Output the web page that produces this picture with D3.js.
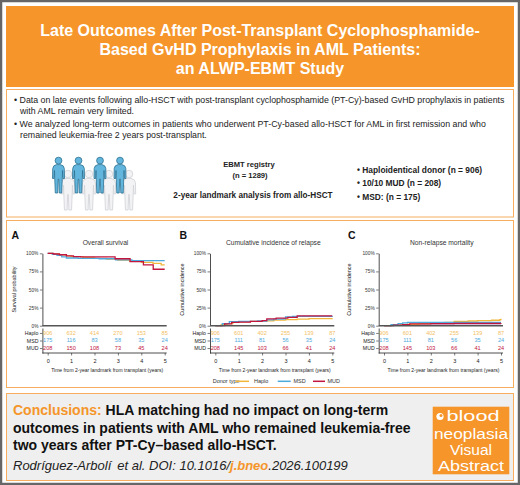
<!DOCTYPE html>
<html><head><meta charset="utf-8">
<script src="https://cdn.jsdelivr.net/npm/d3@7/dist/d3.min.js"></script>
<style>
body{margin:0;background:#fff}
svg{display:block}
text{font-family:"Liberation Sans",Arial,Helvetica,sans-serif}
</style>
</head><body>
<svg id="c" width="520" height="485"></svg>
<script>
// ---------- DATA ----------
const years = [0, 1, 2, 3, 4, 5];
const groups = ["Haplo", "MSD", "MUD"];
const yTicks = [0, 25, 50, 75, 100];

// Overall survival (%), [years, value]
const osHaplo = [[0,100],[0.2,99],[0.5,98],[0.8,96.5],[1.0,95.5],[1.5,94.5],[2.0,93],[2.5,92],[3.0,90.5],[3.5,89],[4.0,87.5],[4.5,86],[4.85,84],[5,84]];
const osMSD   = [[0,100],[0.2,98.5],[0.4,97],[0.6,95],[0.8,93.5],[1.3,93],[2.2,92.5],[2.9,91],[3.6,90],[5,90]];
const osMUD   = [[0,100],[0.25,99],[0.5,98],[0.8,96.5],[1.1,95.5],[1.4,95],[2.88,92.5],[3.52,88.5],[4.09,84],[4.51,78],[5,78]];

// Cumulative incidence of relapse (%)
const cirHaplo = [[0,0],[0.25,1.5],[0.5,3],[0.75,4.5],[1,5.2],[1.5,6],[2,6.8],[2.5,7.8],[3,8.5],[3.5,9],[4,9.8],[5,10]];
const cirMSD   = [[0,0],[0.3,3],[0.6,5.5],[1,6],[1.8,6.5],[2.2,8],[2.5,9],[2.9,9.5],[3.0,12],[3.3,12.8],[5,13]];
const cirMUD   = [[0,0],[0.4,2.5],[0.7,4.5],[1,5],[1.5,6],[2,7],[2.2,9.5],[2.6,10.5],[3.1,11.5],[3.5,13.5],[5,13.5]];

// Non-relapse mortality (%)
const nrmHaplo = [[0,0],[0.3,0.5],[0.7,1.2],[1,2],[1.5,2.8],[2,3.5],[2.6,4.5],[3,6],[3.6,6.5],[4,7],[4.6,7.5],[4.95,8.5],[5,9.5]];
const nrmMSD   = [[0,0],[0.3,1.5],[0.6,3],[0.8,4],[1,4.5],[5,4.5]];
const nrmMUD   = [[0,0],[0.4,0.8],[0.8,1.5],[1.1,2.5],[2,3],[3,3.3],[5,3.5]];

// Numbers at risk
const riskOSHaplo = [906, 632, 414, 270, 153, 85];
const riskOSMSD   = [175, 116, 83, 58, 35, 24];
const riskOSMUD   = [208, 150, 108, 73, 45, 24];
const riskCIHaplo = [906, 601, 402, 255, 139, 87];
const riskCIMSD   = [175, 111, 81, 56, 35, 24];
const riskCIMUD   = [208, 145, 103, 66, 41, 24];

const panelLetters = ["A", "B", "C"];
const panelTitles = ["Overall survival", "Cumulative incidence of relapse", "Non-relapse mortality"];
const panelYLabels = ["Survival probability", "Cumulative incidence", "Cumulative incidence"];
const xAxisTitle = "Time from 2-year landmark from transplant (years)";

// ---------- STYLE ----------
const ORANGE = "#F5952A";
const BORDER = "#F6AE5E";
const lineColor = {Haplo:"#F2B63C", MSD:"#4EA9DC", MUD:"#C2163F"};
const riskColor = {Haplo:"#F3C063", MSD:"#4EA9DC", MUD:"#C2163F"};

const svg = d3.select("#c");

// frame & boxes
svg.append("rect").attr("x",1).attr("y",1).attr("width",518).attr("height",483)
  .attr("fill","#fff").attr("stroke","#666").attr("stroke-width",2.5);
svg.append("rect").attr("x",6).attr("y",6).attr("width",508).attr("height",81).attr("fill",ORANGE);
svg.append("rect").attr("x",6.5).attr("y",89.5).attr("width",507).attr("height",127.5)
  .attr("fill","#fff").attr("stroke",BORDER).attr("stroke-width",1);
svg.append("rect").attr("x",6.5).attr("y",220.5).attr("width",507).attr("height",167)
  .attr("fill","#fff").attr("stroke",BORDER).attr("stroke-width",1);
svg.append("rect").attr("x",6.5).attr("y",393.5).attr("width",507).attr("height",87)
  .attr("fill","#EFEFEF").attr("stroke",BORDER).attr("stroke-width",1);

// title
const titleLines = ["Late Outcomes After Post-Transplant Cyclophosphamide-",
  "Based GvHD Prophylaxis in AML Patients:", "an ALWP-EBMT Study"];
[35.8, 55, 74].forEach((y,i)=>{
  svg.append("text").attr("x",260).attr("y",y).attr("text-anchor","middle")
    .attr("fill","#fff").attr("font-weight","bold").attr("font-size",16).text(titleLines[i]);
});

// bullets
const bullets = [
  ["• Data on late events following allo-HSCT with post-transplant cyclophosphamide (PT-Cy)-based GvHD prophylaxis in patients", 14, 103.3],
  ["with AML remain very limited.", 20, 114],
  ["• We analyzed long-term outcomes in patients who underwent PT-Cy-based allo-HSCT for AML in first remission and who", 14, 127.3],
  ["remained leukemia-free 2 years post-transplant.", 20, 137.8]
];
bullets.forEach(b=>{
  svg.append("text").attr("x",b[1]).attr("y",b[2]).attr("font-size",8.8).attr("fill","#222").text(b[0]);
});

// people icons
const personPath = "M -1.8,7.6 L 1.8,7.6 Q 5.4,8 5.8,11.5 L 6,21.5 L 4.4,21.5 L 4,13.5 L 3.8,20.5 L 3.2,36 L 0.8,36 L 0.3,22 L -0.3,22 L -0.8,36 L -3.2,36 L -3.8,20.5 L -4,13.5 L -4.4,21.5 L -6,21.5 L -5.8,11.5 Q -5.4,8 -1.8,7.6 Z";
function person(cx, top, h, fill, stroke){
  const g = svg.append("g").attr("transform",`translate(${cx},${top}) scale(${h/36})`);
  g.append("circle").attr("cx",0).attr("cy",3.6).attr("r",3.4).attr("fill",fill).attr("stroke",stroke).attr("stroke-width",0.8);
  g.append("path").attr("d",personPath).attr("fill",fill).attr("stroke",stroke).attr("stroke-width",0.8);
}
[68, 89, 109, 129].forEach(x=>person(x,170,40,"#F3F3F5","#D3D5DA"));
[58.5, 78.5, 100, 120].forEach(x=>person(x,157,36,"#62B6DD","#2E7192"));

// middle text
svg.append("text").attr("x",249).attr("y",167).attr("text-anchor","middle").attr("font-weight","bold").attr("font-size",7.6).attr("fill","#222").text("EBMT registry");
svg.append("text").attr("x",250).attr("y",177.5).attr("text-anchor","middle").attr("font-weight","bold").attr("font-size",7.6).attr("fill","#222").text("(n = 1289)");
svg.append("text").attr("x",253).attr("y",198.3).attr("text-anchor","middle").attr("font-weight","bold").attr("font-size",8.2).attr("fill","#222").text("2-year landmark analysis from allo-HSCT");
["• Haploidentical donor (n = 906)","• 10/10 MUD (n = 208)","• MSD: (n = 175)"].forEach((t,i)=>{
  svg.append("text").attr("x",357).attr("y",172.5+i*13.5).attr("font-weight","bold").attr("font-size",8.4).attr("fill","#222").text(t);
});

// ---------- PANELS ----------
const panelOx = [47.7, 215.3, 384];
const curves = [
  {Haplo:osHaplo, MSD:osMSD, MUD:osMUD},
  {Haplo:cirHaplo, MSD:cirMSD, MUD:cirMUD},
  {Haplo:nrmHaplo, MSD:nrmMSD, MUD:nrmMUD}
];
const risks = [
  {Haplo:riskOSHaplo, MSD:riskOSMSD, MUD:riskOSMUD},
  {Haplo:riskCIHaplo, MSD:riskCIMSD, MUD:riskCIMUD},
  {Haplo:riskCIHaplo, MSD:riskCIMSD, MUD:riskCIMUD}
];
const letterX = [11.5, 179.5, 348];
const titleX = [105.5, 273.3, 441.8];
const yLabelX = [15.5, 183.5, 350.5];
const y = d3.scaleLinear().domain([0,100]).range([325.7, 253.3]);

panelOx.forEach((ox, p)=>{
  const axX = ox - 5.3;
  const x = d3.scaleLinear().domain([0,5]).range([ox, ox+117]);
  const g = svg.append("g");

  g.append("text").attr("x",letterX[p]).attr("y",238.8).attr("font-weight","bold").attr("font-size",10.5).attr("fill","#111").text(panelLetters[p]);
  g.append("text").attr("x",titleX[p]).attr("y",244.6).attr("text-anchor","middle").attr("font-size",6.7).attr("fill","#333").text(panelTitles[p]);

  // y axis
  const ya = g.append("g").attr("transform",`translate(${axX},0)`)
    .call(d3.axisLeft(y).tickValues(yTicks).tickFormat(d=>d+"%").tickSize(2.5).tickSizeOuter(0).tickPadding(1.5));
  ya.selectAll("text").attr("font-size",4.8).attr("fill","#333").style("font-family","'Liberation Sans',Arial,sans-serif");
  ya.select(".domain").attr("stroke","#222").attr("stroke-width",0.8);
  ya.selectAll(".tick line").attr("stroke","#222").attr("stroke-width",0.6);

  g.append("text").attr("transform",`translate(${yLabelX[p]},289.5) rotate(-90)`).attr("text-anchor","middle")
    .attr("font-size",5.5).attr("fill","#222").text(panelYLabels[p]);

  // NRM fill under MUD
  if(p===2){
    g.append("path").datum(curves[p].MUD)
      .attr("d", d3.area().curve(d3.curveStepAfter).x(d=>x(d[0])).y0(y(0)).y1(d=>y(d[1])))
      .attr("fill","#C9A3C8").attr("opacity",0.75);
  }

  // curves
  const line = d3.line().curve(d3.curveStepAfter).x(d=>x(d[0])).y(d=>y(d[1]));
  groups.forEach(k=>{
    g.append("path").datum(curves[p][k]).attr("d",line).attr("fill","none")
      .attr("stroke",lineColor[k]).attr("stroke-width",1.3);
  });

  // 0% baseline
  g.append("line").attr("x1",axX).attr("x2",ox+119).attr("y1",y(0)).attr("y2",y(0))
    .attr("stroke","#555").attr("stroke-width",1.4);

  // risk table
  const ry = d3.scalePoint().domain(groups).range([328,353]).padding(0.65);
  const ra = g.append("g").attr("transform",`translate(${axX},0)`)
    .call(d3.axisLeft(ry).tickSize(2.5).tickSizeOuter(0).tickPadding(1.5));
  ra.selectAll("text").attr("font-size",5.2).attr("fill","#222").style("font-family","'Liberation Sans',Arial,sans-serif");
  ra.select(".domain").attr("stroke","#222").attr("stroke-width",0.8);
  ra.selectAll(".tick line").attr("stroke","#222").attr("stroke-width",0.6);

  groups.forEach(k=>{
    g.selectAll(null).data(risks[p][k]).enter().append("text")
      .attr("x",(d,i)=>x(years[i])).attr("y",ry(k)+1.9).attr("text-anchor","middle")
      .attr("font-size",5.6).attr("fill",riskColor[k]).text(d=>d);
  });

  const xa = g.append("g").attr("transform",`translate(0,353)`)
    .call(d3.axisBottom(x).tickValues(years).tickFormat(d3.format("d")).tickSize(2.5).tickSizeOuter(0).tickPadding(3.5));
  xa.select(".domain").remove();
  xa.selectAll("text").attr("font-size",5.5).attr("fill","#222").style("font-family","'Liberation Sans',Arial,sans-serif");
  xa.selectAll(".tick line").attr("stroke","#222").attr("stroke-width",0.6);
  g.append("line").attr("x1",axX).attr("x2",ox+119).attr("y1",353).attr("y2",353).attr("stroke","#222").attr("stroke-width",0.8);

  g.append("text").attr("x",(ox+ox+117)/2+1).attr("y",372).attr("text-anchor","middle")
    .attr("font-size",6).attr("textLength",112).attr("lengthAdjust","spacingAndGlyphs")
    .attr("fill","#222").text(xAxisTitle);
});

// legend (panel B)
const lg = svg.append("g").attr("font-size",5.5).attr("fill","#333");
lg.append("text").attr("x",212.7).attr("y",383.2).text("Donor type");
const legPos = [[235.7,249,254],[277.7,290.7,293.5],[313,325,327.5]];
groups.forEach((k,i)=>{
  lg.append("line").attr("x1",legPos[i][0]).attr("x2",legPos[i][1]).attr("y1",381.3).attr("y2",381.3)
    .attr("stroke",lineColor[k]).attr("stroke-width",1.5);
  lg.append("text").attr("x",legPos[i][2]).attr("y",383.2).text(k);
});

// ---------- CONCLUSION ----------
const c1 = svg.append("text").attr("x",13).attr("y",415).attr("font-weight","bold").attr("font-size",14).attr("fill","#111");
c1.append("tspan").attr("fill",ORANGE).text("Conclusions: ");
c1.append("tspan").text("HLA matching had no impact on long-term");
svg.append("text").attr("x",13).attr("y",433.3).attr("font-weight","bold").attr("font-size",14).attr("fill","#111")
  .text("outcomes in patients with AML who remained leukemia-free");
svg.append("text").attr("x",13).attr("y",450.3).attr("font-weight","bold").attr("font-size",14).attr("fill","#111")
  .text("two years after PT-Cy\u2013based allo-HSCT.");
const cit = svg.append("text").attr("x",13).attr("y",470).attr("font-style","italic").attr("font-size",13).attr("fill","#222");
cit.append("tspan").text("Rodríguez-Arbolí");
cit.append("tspan").attr("dx",6).text("et al. DOI: 10.1016/");
cit.append("tspan").attr("fill",ORANGE).attr("font-weight","bold").text("j.bneo");
cit.append("tspan").text(".2026.100199");

// logo
svg.append("rect").attr("x",432.7).attr("y",406.7).attr("width",76.6).attr("height",67.6).attr("fill",ORANGE);
svg.append("circle").attr("cx",440).attr("cy",416.5).attr("r",3.6).attr("fill","#fff");
svg.append("circle").attr("cx",441).attr("cy",415.5).attr("r",1.5).attr("fill",ORANGE);
svg.append("text").attr("x",446.5).attr("y",421).attr("font-size",15.5).attr("textLength",53).attr("lengthAdjust","spacingAndGlyphs").attr("fill","#fff").text("blood");
svg.append("text").attr("x",471).attr("y",438.5).attr("text-anchor","middle").attr("font-size",15.5).attr("textLength",74).attr("lengthAdjust","spacingAndGlyphs").attr("fill","#fff").text("neoplasia");
svg.append("text").attr("x",471).attr("y",455).attr("text-anchor","middle").attr("font-size",14).attr("textLength",42).attr("lengthAdjust","spacingAndGlyphs").attr("fill","#fff").text("Visual");
svg.append("text").attr("x",471).attr("y",471).attr("text-anchor","middle").attr("font-size",14.5).attr("textLength",66).attr("lengthAdjust","spacingAndGlyphs").attr("fill","#fff").text("Abstract");
</script>
</body></html>
